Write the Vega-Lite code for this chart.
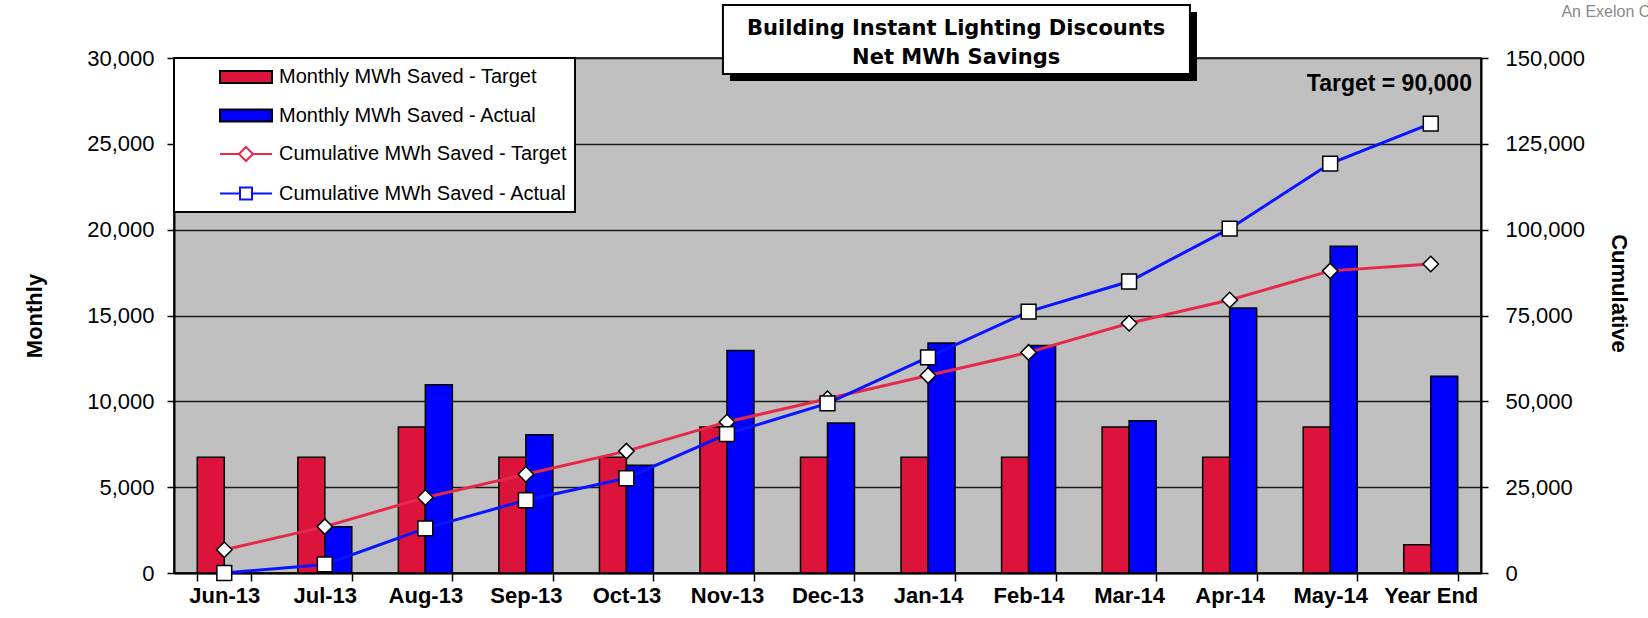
{
  "$schema": "https://vega.github.io/schema/vega-lite/v6.json",
  "width": 1307,
  "height": 515,
  "autosize": {"type": "none"},
  "padding": {"left": 174, "top": 58, "right": 167, "bottom": 45},
  "background": "white",
  "config": {
    "font": "Liberation Sans",
    "view": {"fill": "#c0c0c0", "stroke": "black", "strokeWidth": 1.5},
    "legend": {
      "orient": "none",
      "legendX": 0,
      "legendY": 0,
      "fillColor": "white",
      "strokeColor": "black",
      "padding": 8,
      "labelFont": "Liberation Sans",
      "labelFontSize": 20,
      "labelColor": "black",
      "labelLimit": 500,
      "rowPadding": 17.5,
      "symbolOffset": 53,
      "labelOffset": 22,
      "symbolSize": 400,
      "symbolStrokeWidth": 2
    }
  },
  "data": {
    "values": [
      {"m": "Jun-13", "s": "Monthly MWh Saved - Target", "v": 6750},
      {"m": "Jul-13", "s": "Monthly MWh Saved - Target", "v": 6750},
      {"m": "Aug-13", "s": "Monthly MWh Saved - Target", "v": 8500},
      {"m": "Sep-13", "s": "Monthly MWh Saved - Target", "v": 6750},
      {"m": "Oct-13", "s": "Monthly MWh Saved - Target", "v": 6750},
      {"m": "Nov-13", "s": "Monthly MWh Saved - Target", "v": 8500},
      {"m": "Dec-13", "s": "Monthly MWh Saved - Target", "v": 6750},
      {"m": "Jan-14", "s": "Monthly MWh Saved - Target", "v": 6750},
      {"m": "Feb-14", "s": "Monthly MWh Saved - Target", "v": 6750},
      {"m": "Mar-14", "s": "Monthly MWh Saved - Target", "v": 8500},
      {"m": "Apr-14", "s": "Monthly MWh Saved - Target", "v": 6750},
      {"m": "May-14", "s": "Monthly MWh Saved - Target", "v": 8500},
      {"m": "Year End", "s": "Monthly MWh Saved - Target", "v": 1650},
      {"m": "Jun-13", "s": "Monthly MWh Saved - Actual", "v": 0},
      {"m": "Jul-13", "s": "Monthly MWh Saved - Actual", "v": 2700},
      {"m": "Aug-13", "s": "Monthly MWh Saved - Actual", "v": 10970},
      {"m": "Sep-13", "s": "Monthly MWh Saved - Actual", "v": 8050},
      {"m": "Oct-13", "s": "Monthly MWh Saved - Actual", "v": 6280},
      {"m": "Nov-13", "s": "Monthly MWh Saved - Actual", "v": 12960},
      {"m": "Dec-13", "s": "Monthly MWh Saved - Actual", "v": 8740},
      {"m": "Jan-14", "s": "Monthly MWh Saved - Actual", "v": 13400},
      {"m": "Feb-14", "s": "Monthly MWh Saved - Actual", "v": 13250},
      {"m": "Mar-14", "s": "Monthly MWh Saved - Actual", "v": 8870},
      {"m": "Apr-14", "s": "Monthly MWh Saved - Actual", "v": 15430},
      {"m": "May-14", "s": "Monthly MWh Saved - Actual", "v": 19030},
      {"m": "Year End", "s": "Monthly MWh Saved - Actual", "v": 11460},
      {"m": "Jun-13", "s": "Cumulative MWh Saved - Target", "v": 6750},
      {"m": "Jul-13", "s": "Cumulative MWh Saved - Target", "v": 13500},
      {"m": "Aug-13", "s": "Cumulative MWh Saved - Target", "v": 22000},
      {"m": "Sep-13", "s": "Cumulative MWh Saved - Target", "v": 28750},
      {"m": "Oct-13", "s": "Cumulative MWh Saved - Target", "v": 35500},
      {"m": "Nov-13", "s": "Cumulative MWh Saved - Target", "v": 44000},
      {"m": "Dec-13", "s": "Cumulative MWh Saved - Target", "v": 50750},
      {"m": "Jan-14", "s": "Cumulative MWh Saved - Target", "v": 57500},
      {"m": "Feb-14", "s": "Cumulative MWh Saved - Target", "v": 64250},
      {"m": "Mar-14", "s": "Cumulative MWh Saved - Target", "v": 72750},
      {"m": "Apr-14", "s": "Cumulative MWh Saved - Target", "v": 79500},
      {"m": "May-14", "s": "Cumulative MWh Saved - Target", "v": 88000},
      {"m": "Year End", "s": "Cumulative MWh Saved - Target", "v": 90000},
      {"m": "Jun-13", "s": "Cumulative MWh Saved - Actual", "v": 0},
      {"m": "Jul-13", "s": "Cumulative MWh Saved - Actual", "v": 2500},
      {"m": "Aug-13", "s": "Cumulative MWh Saved - Actual", "v": 13000},
      {"m": "Sep-13", "s": "Cumulative MWh Saved - Actual", "v": 21200},
      {"m": "Oct-13", "s": "Cumulative MWh Saved - Actual", "v": 27600},
      {"m": "Nov-13", "s": "Cumulative MWh Saved - Actual", "v": 40450},
      {"m": "Dec-13", "s": "Cumulative MWh Saved - Actual", "v": 49400},
      {"m": "Jan-14", "s": "Cumulative MWh Saved - Actual", "v": 62800},
      {"m": "Feb-14", "s": "Cumulative MWh Saved - Actual", "v": 76150},
      {"m": "Mar-14", "s": "Cumulative MWh Saved - Actual", "v": 84900},
      {"m": "Apr-14", "s": "Cumulative MWh Saved - Actual", "v": 100300},
      {"m": "May-14", "s": "Cumulative MWh Saved - Actual", "v": 119250},
      {"m": "Year End", "s": "Cumulative MWh Saved - Actual", "v": 130900}
    ]
  },
  "layer": [
    {
      "layer": [
        {
          "transform": [{"filter": "indexof(datum.s, 'Monthly') === 0"}],
          "mark": {"type": "bar", "strokeWidth": 1.5, "opacity": 1},
          "encoding": {
            "x": {
              "field": "m", "type": "nominal", "title": null,
              "sort": ["Jun-13","Jul-13","Aug-13","Sep-13","Oct-13","Nov-13","Dec-13","Jan-14","Feb-14","Mar-14","Apr-14","May-14","Year End"],
              "scale": {"paddingInner": 0.463, "paddingOuter": 0.2315},
              "axis": {
                "tickBand": "extent", "labelAngle": 0,
                "domainColor": "black", "domainWidth": 2,
                "tickColor": "black", "tickSize": 8, "tickWidth": 1.5,
                "labelFont": "Liberation Sans", "labelFontSize": 22, "labelFontWeight": "bold",
                "labelColor": "black", "labelPadding": 4, "title": null
              }
            },
            "xOffset": {
              "field": "s", "type": "nominal",
              "sort": ["Monthly MWh Saved - Target", "Monthly MWh Saved - Actual"],
              "scale": {"paddingInner": 0, "paddingOuter": 0}
            },
            "y": {
              "field": "v", "type": "quantitative", "title": "Monthly",
              "scale": {"domain": [0, 30000], "nice": false},
              "axis": {
                "orient": "left",
                "values": [0, 5000, 10000, 15000, 20000, 25000, 30000],
                "format": ",d",
                "grid": true, "gridColor": "#1a1a1a", "gridWidth": 1.5,
                "domainColor": "black", "domainWidth": 2,
                "tickColor": "black", "tickSize": 7, "tickWidth": 1.5,
                "labelFont": "Liberation Sans", "labelFontSize": 22, "labelColor": "black", "labelPadding": 13,
                "titleFont": "Liberation Sans", "titleFontSize": 22, "titleFontWeight": "bold",
                "titleColor": "black", "titlePadding": 40
              }
            },
            "fill": {
              "field": "s", "type": "nominal",
              "scale": {
                "domain": ["Monthly MWh Saved - Target", "Monthly MWh Saved - Actual", "Cumulative MWh Saved - Target", "Cumulative MWh Saved - Actual"],
                "range": ["#dc143c", "#0000ff", "white", "white"]
              },
              "legend": {
                "title": null,
                "encode": {
                  "symbols": {
                    "update": {
                      "shape": {"signal": "indexof(datum.value,'Monthly')===0 ? 'M-2.6,-0.6H2.6V0.6H-2.6Z' : (indexof(datum.value,'Target')>0 ? 'M-2.6,0H-0.7M0.7,0H2.6M0,-0.7L0.7,0L0,0.7L-0.7,0Z' : 'M-2.6,0H-0.6M0.6,0H2.6M-0.6,-0.6H0.6V0.6H-0.6Z')"},
                      "strokeWidth": {"value": 2},
                      "size": {"value": 400},
                      "opacity": {"value": 1},
                      "fillOpacity": {"value": 1},
                      "strokeOpacity": {"value": 1}
                    }
                  },
                  "legend": {
                    "update": {
                      "fill": {"value": "white"},
                      "stroke": {"value": "black"},
                      "strokeWidth": {"value": 2}
                    }
                  }
                }
              }
            },
            "stroke": {
              "field": "s", "type": "nominal",
              "scale": {
                "domain": ["Monthly MWh Saved - Target", "Monthly MWh Saved - Actual", "Cumulative MWh Saved - Target", "Cumulative MWh Saved - Actual"],
                "range": ["black", "black", "#e6294b", "#0a14ff"]
              },
              "legend": {
                "title": null,
                "encode": {
                  "symbols": {
                    "update": {
                      "shape": {"signal": "indexof(datum.value,'Monthly')===0 ? 'M-2.6,-0.6H2.6V0.6H-2.6Z' : (indexof(datum.value,'Target')>0 ? 'M-2.6,0H-0.7M0.7,0H2.6M0,-0.7L0.7,0L0,0.7L-0.7,0Z' : 'M-2.6,0H-0.6M0.6,0H2.6M-0.6,-0.6H0.6V0.6H-0.6Z')"},
                      "strokeWidth": {"value": 2},
                      "size": {"value": 400},
                      "opacity": {"value": 1},
                      "fillOpacity": {"value": 1},
                      "strokeOpacity": {"value": 1}
                    }
                  },
                  "legend": {
                    "update": {
                      "fill": {"value": "white"},
                      "stroke": {"value": "black"},
                      "strokeWidth": {"value": 2}
                    }
                  }
                }
              }
            }
          }
        },
        {
          "transform": [{"filter": "indexof(datum.s, 'Cumulative') === 0"}],
          "layer": [
            {
              "mark": {"type": "line", "strokeWidth": 3},
              "encoding": {
                "x": {
                  "field": "m", "type": "nominal", "title": null,
                  "sort": ["Jun-13","Jul-13","Aug-13","Sep-13","Oct-13","Nov-13","Dec-13","Jan-14","Feb-14","Mar-14","Apr-14","May-14","Year End"]
                },
                "y": {
                  "field": "v", "type": "quantitative", "title": "Cumulative",
                  "scale": {"domain": [0, 150000], "nice": false},
                  "axis": {
                    "orient": "right",
                    "values": [0, 25000, 50000, 75000, 100000, 125000, 150000],
                    "format": ",d",
                    "grid": false,
                    "domainColor": "black", "domainWidth": 2,
                    "tickColor": "black", "tickSize": 7, "tickWidth": 1.5,
                    "labelFont": "Liberation Sans", "labelFontSize": 22, "labelColor": "black", "labelPadding": 17,
                    "titleFont": "Liberation Sans", "titleFontSize": 22, "titleFontWeight": "bold",
                    "titleColor": "black", "titlePadding": 22, "titleY": 235
                  }
                },
                "stroke": {
                  "field": "s", "type": "nominal",
                  "legend": {
                    "title": null,
                    "encode": {
                      "symbols": {
                        "update": {
                          "shape": {"signal": "indexof(datum.value,'Monthly')===0 ? 'M-2.6,-0.6H2.6V0.6H-2.6Z' : (indexof(datum.value,'Target')>0 ? 'M-2.6,0H-0.7M0.7,0H2.6M0,-0.7L0.7,0L0,0.7L-0.7,0Z' : 'M-2.6,0H-0.6M0.6,0H2.6M-0.6,-0.6H0.6V0.6H-0.6Z')"},
                          "strokeWidth": {"value": 2},
                          "size": {"value": 400},
                          "opacity": {"value": 1},
                          "fillOpacity": {"value": 1},
                          "strokeOpacity": {"value": 1}
                        }
                      },
                      "legend": {
                        "update": {
                          "fill": {"value": "white"},
                          "stroke": {"value": "black"},
                          "strokeWidth": {"value": 2}
                        }
                      }
                    }
                  }
                }
              }
            },
            {
              "transform": [{"filter": "datum.s === 'Cumulative MWh Saved - Target'"}],
              "mark": {"type": "point", "shape": "diamond", "filled": true, "fill": "white", "stroke": "black", "strokeWidth": 1.5, "size": 240, "opacity": 1},
              "encoding": {
                "x": {
                  "field": "m", "type": "nominal", "title": null,
                  "sort": ["Jun-13","Jul-13","Aug-13","Sep-13","Oct-13","Nov-13","Dec-13","Jan-14","Feb-14","Mar-14","Apr-14","May-14","Year End"]
                },
                "y": {"field": "v", "type": "quantitative", "title": "Cumulative", "scale": {"domain": [0, 150000], "nice": false}}
              }
            },
            {
              "transform": [{"filter": "datum.s === 'Cumulative MWh Saved - Actual'"}],
              "mark": {"type": "point", "shape": "square", "filled": true, "fill": "white", "stroke": "black", "strokeWidth": 1.5, "size": 220, "opacity": 1},
              "encoding": {
                "x": {
                  "field": "m", "type": "nominal", "title": null,
                  "sort": ["Jun-13","Jul-13","Aug-13","Sep-13","Oct-13","Nov-13","Dec-13","Jan-14","Feb-14","Mar-14","Apr-14","May-14","Year End"]
                },
                "y": {"field": "v", "type": "quantitative", "title": "Cumulative", "scale": {"domain": [0, 150000], "nice": false}}
              }
            }
          ]
        }
      ],
      "resolve": {"scale": {"y": "independent"}}
    },
    {
      "data": {"values": [{}]},
      "layer": [
        {
          "mark": {"type": "rect", "fill": "black"},
          "encoding": {
            "x": {"datum": 5.53, "type": "quantitative", "scale": {"domain": [0, 13], "nice": false, "zero": false}, "axis": null},
            "x2": {"datum": 10.175},
            "y": {"datum": 32680, "type": "quantitative", "scale": {"domain": [0, 30000], "nice": false}, "axis": null},
            "y2": {"datum": 28660}
          }
        },
        {
          "mark": {"type": "rect", "fill": "white", "stroke": "black", "strokeWidth": 2},
          "encoding": {
            "x": {"datum": 5.46, "type": "quantitative", "scale": {"domain": [0, 13], "nice": false, "zero": false}, "axis": null},
            "x2": {"datum": 10.105},
            "y": {"datum": 33087, "type": "quantitative", "scale": {"domain": [0, 30000], "nice": false}, "axis": null},
            "y2": {"datum": 29068}
          }
        },
        {
          "mark": {"type": "text", "text": ["Building Instant Lighting Discounts", "Net MWh Savings"], "font": "DejaVu Sans", "fontSize": 21, "fontWeight": "bold", "color": "black", "align": "center", "baseline": "middle", "lineHeight": 29},
          "encoding": {
            "x": {"datum": 7.78, "type": "quantitative", "scale": {"domain": [0, 13], "nice": false, "zero": false}, "axis": null},
            "y": {"datum": 31718, "type": "quantitative", "scale": {"domain": [0, 30000], "nice": false}, "axis": null}
          }
        },
        {
          "mark": {"type": "text", "text": "Target = 90,000", "font": "Liberation Sans", "fontSize": 23, "fontWeight": "bold", "color": "black", "align": "right", "baseline": "middle"},
          "encoding": {
            "x": {"datum": 12.91, "type": "quantitative", "scale": {"domain": [0, 13], "nice": false, "zero": false}, "axis": null},
            "y": {"datum": 28486, "type": "quantitative", "scale": {"domain": [0, 30000], "nice": false}, "axis": null}
          }
        },
        {
          "mark": {"type": "text", "text": "An Exelon Company", "font": "Liberation Sans", "fontSize": 16, "color": "#8a8a8a", "align": "left", "baseline": "middle"},
          "encoding": {
            "x": {"datum": 13.8, "type": "quantitative", "scale": {"domain": [0, 13], "nice": false, "zero": false}, "axis": null},
            "y": {"datum": 32680, "type": "quantitative", "scale": {"domain": [0, 30000], "nice": false}, "axis": null}
          }
        }
      ]
    }
  ],
  "resolve": {"scale": {"x": "independent", "y": "independent"}}
}
